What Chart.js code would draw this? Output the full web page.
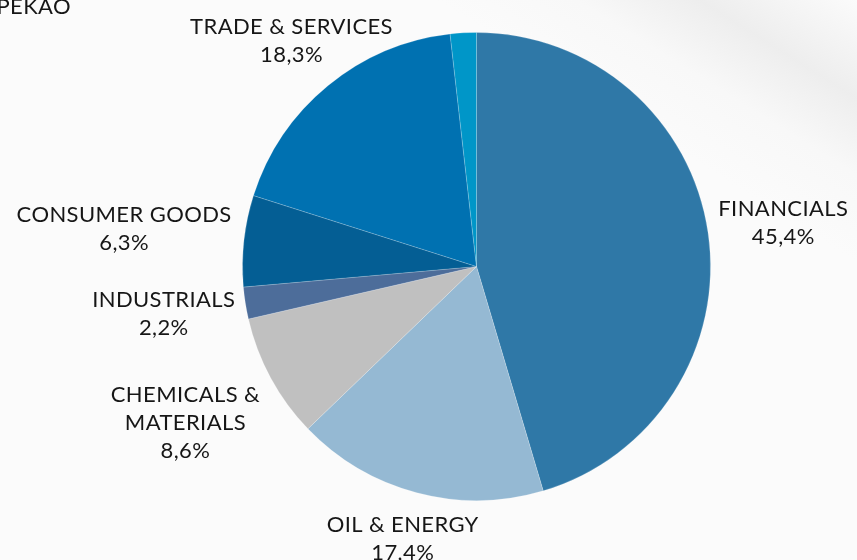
<!DOCTYPE html>
<html>
<head>
<meta charset="utf-8">
<script src="https://cdn.jsdelivr.net/npm/chart.js@4.4.1/dist/chart.umd.min.js"></script>
<style>
  html, body { margin: 0; padding: 0; }
  body { width: 857px; height: 560px; overflow: hidden; position: relative;
         background: #fbfbfb; }
  #shade { position: absolute; left: 0; top: 0; width: 857px; height: 560px;
           background: linear-gradient(212deg, rgba(238,238,238,0.0) 0%, rgba(236,236,236,0.9) 9%, rgba(245,245,245,0.5) 16%, rgba(251,251,251,0) 24%); }
  #wrap { position: absolute; left: 0; top: 0; width: 857px; height: 560px; }
</style>
</head>
<body>
<div id="shade"></div>
<div id="wrap"><canvas id="c" width="857" height="560"></canvas></div>
<script>
const categories = ["FINANCIALS", "OIL & ENERGY", "CHEMICALS & MATERIALS", "INDUSTRIALS", "CONSUMER GOODS", "TRADE & SERVICES", "OTHER"];
const labelLines = [["FINANCIALS"], ["OIL & ENERGY"], ["CHEMICALS &", "MATERIALS"], ["INDUSTRIALS"], ["CONSUMER GOODS"], ["TRADE & SERVICES"], null];
const shares = [45.4, 17.4, 8.6, 2.2, 6.3, 18.3, 1.8];
const colors = ["#2f78a7", "#95b9d3", "#c0c0c0", "#4d6d9a", "#045e94", "#0071b1", "#0096c8"];

const FONT = '"Lato", "Open Sans", sans-serif';

const outsideLabels = {
  id: 'outsideLabels',
  afterDraw(chart, args, opts) {
    const ctx = chart.ctx;
    const meta = chart.getDatasetMeta(0);
    ctx.save();
    ctx.fillStyle = '#161616';
    ctx.font = '22px ' + FONT;
    try { ctx.letterSpacing = '0.4px'; } catch (e) {}
    ctx.textAlign = 'center';
    ctx.textBaseline = 'middle';
    const lh = 28;
    meta.data.forEach((arc, i) => {
      const lines = labelLines[i];
      if (!lines) return;
      const all = lines.concat([shares[i].toFixed(1).replace('.', ',') + '%']);
      const w = Math.max(...all.map(t => ctx.measureText(t).width));
      const h = all.length * lh;
      const mid = (arc.startAngle + arc.endAngle) / 2;
      const r = arc.outerRadius + opts.gap;
      const ax = arc.x + Math.cos(mid) * r;
      const ay = arc.y + Math.sin(mid) * r;
      const nudge = opts.nudge[i] || [0, 0];
      const cx = ax + Math.cos(mid) * w / 2 + nudge[0];
      const cy = ay + Math.sin(mid) * h / 2 + nudge[1];
      all.forEach((t, k) => {
        ctx.fillText(t, cx, cy - h / 2 + lh / 2 + k * lh);
      });
    });
    ctx.textAlign = 'right';
    ctx.textBaseline = 'alphabetic';
    ctx.fillText('PEKAO', 71, 14);
    ctx.restore();
  }
};

new Chart(document.getElementById('c'), {
  type: 'pie',
  data: {
    labels: categories,
    datasets: [{
      data: shares,
      backgroundColor: colors,
      borderColor: 'rgba(255,255,255,0.18)',
      borderWidth: 1,
      hoverOffset: 0,
      offset: 0
    }]
  },
  options: {
    responsive: false,
    animation: false,
    layout: { padding: { top: 32, bottom: 59, left: 242, right: 146 } },
    plugins: {
      legend: { display: false },
      tooltip: { enabled: false },
      outsideLabels: { gap: 11, nudge: { 0: [0, -4], 1: [8, 8], 2: [-10, 20], 3: [0, 5], 4: [-2, -8], 5: [35, -15] } }
    }
  },
  plugins: [outsideLabels]
});
</script>
</body>
</html>
